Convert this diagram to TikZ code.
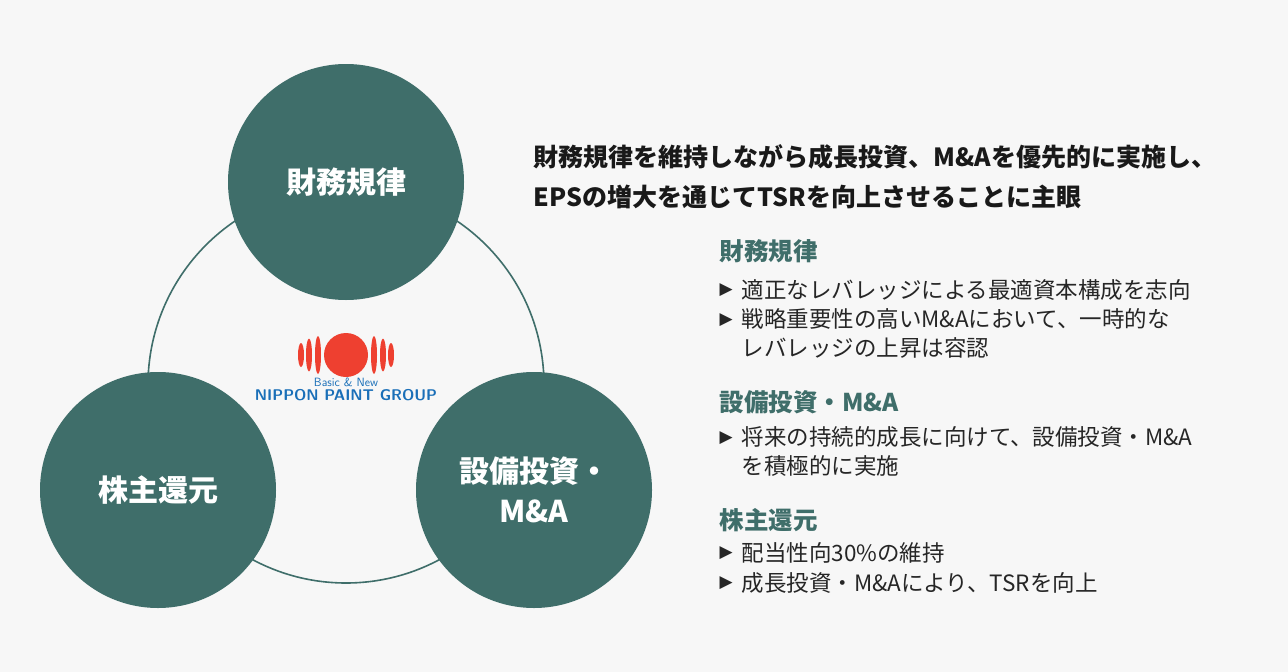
\documentclass[tikz,border=0pt]{standalone}
\usepackage{fontspec}
\setmainfont{Noto Sans CJK JP}
\newfontfamily\sym{DejaVu Sans}
\definecolor{teal}{HTML}{3F6E6A}
\definecolor{lred}{HTML}{EE4030}
\definecolor{lblue}{HTML}{1A6FB8}
\begin{document}
\begin{tikzpicture}[x=1pt,y=-1pt,
  big/.style={circle,fill=teal,minimum size=236pt,inner sep=0pt,text=white,font=\fontsize{30}{40}\selectfont\bfseries,align=center},
  head/.style={anchor=west,font=\fontsize{25}{28}\selectfont\bfseries,text=black!90},
  sect/.style={anchor=west,font=\fontsize{24.5}{28}\selectfont\bfseries,text=teal},
  item/.style={anchor=west,font=\fontsize{22.5}{29}\selectfont,text=black!85,align=left},
  tri/.style={anchor=west,font=\sym\fontsize{17}{18}\selectfont,text=black!85}]
\fill[black!3] (0,0) rectangle (1288,672);
\useasboundingbox (0,0) rectangle (1288,672);
\draw[teal,line width=1.6pt] (346,385) circle (198);
\node[big] (a) at (346,182) {財務規律};
\node[big] (b) at (158,490) {株主還元};
\node[big] (c) at (534,490) {設備投資・\\M\&A};
% logo
\fill[lred] (346,355) circle (22);
\foreach \dx/\ry in {28/19,37/16.5,45/12}{
  \fill[lred] (346-\dx,355) ellipse (3 and \ry);
  \fill[lred] (346+\dx,355) ellipse (3 and \ry);}
\node[font=\fontsize{12}{13}\selectfont\sffamily,text=lblue] (l1) at (346,382) {Basic \& New};
\node[font=\fontsize{15.5}{16}\selectfont\sffamily\bfseries,text=lblue] (l2) at (346,395) {NIPPON PAINT GROUP};
% heading
\node[head] (h1) at (530,157) {財務規律を維持しながら成長投資、M\&Aを優先的に実施し、};
\node[head] (h2) at (530,197) {EPSの増大を通じてTSRを向上させることに主眼};
\node[sect] (s1) at (716,251) {財務規律};
\node[tri] (t1) at (716,290) {▶};
\node[item] (i1) at (738,290) {適正なレバレッジによる最適資本構成を志向};
\node[tri] (t2) at (716,320) {▶};
\node[item,anchor=north west] (i2) at (738,305) {戦略重要性の高いM\&Aにおいて、一時的な\\レバレッジの上昇は容認};
\node[sect] (s2) at (716,402) {設備投資・M\&A};
\node[tri] (t3) at (716,438) {▶};
\node[item,anchor=north west] (i3) at (738,423) {将来の持続的成長に向けて、設備投資・M\&A\\を積極的に実施};
\node[sect] (s3) at (716,520) {株主還元};
\node[tri] (t4) at (716,553) {▶};
\node[item] (i4) at (738,553) {配当性向30\%の維持};
\node[tri] (t5) at (716,583) {▶};
\node[item] (i5) at (738,583) {成長投資・M\&Aにより、TSRを向上};
\end{tikzpicture}
\end{document}
